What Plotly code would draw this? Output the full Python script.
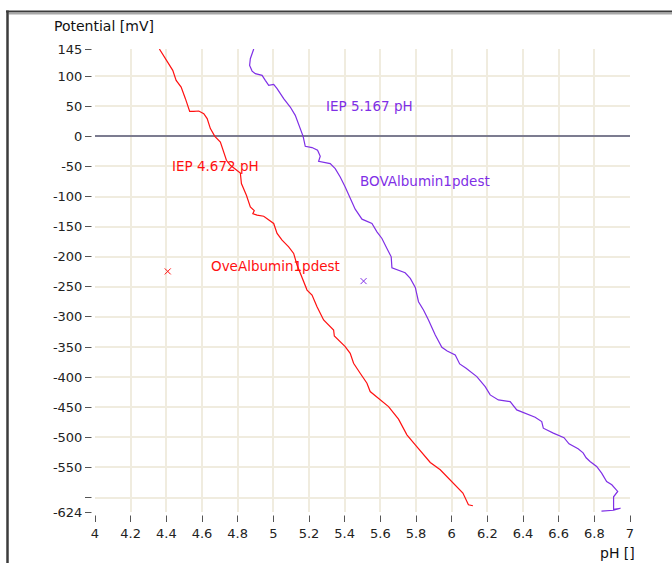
import plotly.graph_objects as go

# ---------------- data ----------------
ove_ph = [4.361, 4.395, 4.436, 4.455, 4.483, 4.507, 4.531, 4.554, 4.582, 4.610,
          4.629, 4.647, 4.672, 4.703, 4.718, 4.737, 4.759, 4.787, 4.815, 4.821,
          4.849, 4.871, 4.893, 4.885, 4.909, 4.946, 4.974, 5.002, 5.021, 5.049,
          5.086, 5.114, 5.133, 5.161, 5.189, 5.217, 5.245, 5.282, 5.310, 5.338,
          5.342, 5.375, 5.403, 5.431, 5.450, 5.487, 5.525, 5.543, 5.571, 5.599,
          5.646, 5.702, 5.749, 5.796, 5.833, 5.880, 5.936, 5.982, 6.020, 6.063,
          6.094, 6.119]
ove_mv = [145, 128.9, 109.5, 92.9, 81.8, 62.5, 41.5, 41.5, 42.0, 37.6,
          29.4, 12.8, 0, -9.5, -23.2, -39.8, -48.1, -55.2, -60.9, -78.4,
          -97.8, -117.2, -123.5, -128.5, -131.0, -132.7, -138.1, -144.8, -161.4, -172.5,
          -183.6, -194.5, -213.9, -233.3, -255.4, -263.7, -283.1, -305.1, -313.4, -321.7,
          -331.7, -341.1, -349.4, -360.4, -377.0, -393.5, -410.1, -424.0, -431.2, -437.8,
          -448.9, -469.8, -495.9, -512.4, -526.2, -541.8, -553.9, -567.7, -578.8, -592.5,
          -612.0, -613.6]

bov_ph = [4.890, 4.871, 4.867, 4.881, 4.899, 4.937, 4.955, 4.974, 5.002, 5.021,
          5.058, 5.095, 5.123, 5.142, 5.167, 5.179, 5.217, 5.248, 5.263, 5.254,
          5.291, 5.319, 5.347, 5.375, 5.403, 5.431, 5.459, 5.497, 5.553, 5.581,
          5.609, 5.637, 5.661, 5.665, 5.702, 5.739, 5.768, 5.796, 5.814, 5.842,
          5.870, 5.908, 5.945, 5.975, 6.020, 6.045, 6.081, 6.141, 6.188, 6.216,
          6.262, 6.328, 6.365, 6.412, 6.468, 6.505, 6.514, 6.570, 6.630, 6.658,
          6.709, 6.737, 6.754, 6.776, 6.813, 6.841, 6.869, 6.898, 6.931, 6.908,
          6.908, 6.947, 6.908, 6.840]
bov_mv = [145, 128.9, 117.7, 108.3, 104.0, 101.2, 92.9, 84.6, 86.2, 79.1,
          62.5, 48.6, 34.8, 21.1, 0, -16.6, -18.7, -23.2, -33.2, -41.5,
          -44.3, -45.3, -53.6, -67.5, -84.1, -103.3, -121.1, -137.6, -144.8, -158.7,
          -169.7, -186.2, -200.2, -218.4, -222.2, -226.7, -236.0, -250.9, -274.8, -288.6,
          -305.1, -330.0, -350.4, -356.6, -363.2, -378.1, -385.3, -399.2, -415.8, -429.5,
          -437.8, -440.6, -454.4, -459.9, -466.5, -473.8, -484.8, -493.0, -500.5, -510.8,
          -519.1, -525.7, -534.0, -540.1, -548.4, -559.4, -573.3, -578.8, -589.9, -598.7,
          -619.4, -617.8, -621.1, -622.7]

ove_marker = ([4.408], [-224.4])
bov_marker = ([5.506], [-240.5])

ove_iep_label = "IEP 4.672 pH"
bov_iep_label = "IEP 5.167 pH"
ove_name = "OveAlbumin1pdest"
bov_name = "BOVAlbumin1pdest"

x_tickvals = [4.0, 4.2, 4.4, 4.6, 4.8, 5.0, 5.2, 5.4, 5.6, 5.8, 6.0, 6.2, 6.4, 6.6, 6.8, 7.0]
x_ticktext = ["4", "4.2", "4.4", "4.6", "4.8", "5", "5.2", "5.4", "5.6", "5.8",
              "6", "6.2", "6.4", "6.6", "6.8", "7"]
y_tickvals = [145, 100, 50, 0, -50, -100, -150, -200, -250, -300, -350, -400,
              -450, -500, -550, -600, -624]
y_ticktext = ["145", "100", "50", "0", "-50", "-100", "-150", "-200", "-250", "-300",
              "-350", "-400", "-450", "-500", "-550", "", "-624"]

RED = "#ff1010"
PURPLE = "#7f2fe6"
FONT = "DejaVu Sans"

# ---------------- layout geometry ----------------
W, H = 672, 563
L, R, T, B = 95, 42, 49, 51
PW, PH = W - L - R, H - T - B


def px(xp):
    return (xp - L) / PW


def py(yp):
    return (H - B - yp) / PH


fig = go.Figure()

fig.add_trace(go.Scatter(x=ove_ph, y=ove_mv, mode="lines",
                         line=dict(color=RED, width=1.2), hoverinfo="skip"))
fig.add_trace(go.Scatter(x=bov_ph, y=bov_mv, mode="lines",
                         line=dict(color=PURPLE, width=1.2), hoverinfo="skip"))
fig.add_trace(go.Scatter(x=ove_marker[0], y=ove_marker[1], mode="markers",
                         marker=dict(symbol="x-thin", size=6, line=dict(color=RED, width=1))))
fig.add_trace(go.Scatter(x=bov_marker[0], y=bov_marker[1], mode="markers",
                         marker=dict(symbol="x-thin", size=6, line=dict(color=PURPLE, width=1))))

ann_font = dict(family=FONT, size=13.5)
fig.add_annotation(x=4.421, y=-49.3, text=ove_iep_label, showarrow=False,
                   xanchor="left", yanchor="middle", font=dict(**ann_font, color=RED))
fig.add_annotation(x=4.640, y=-215.1, text=ove_name, showarrow=False,
                   xanchor="left", yanchor="middle", font=dict(**ann_font, color=RED))
fig.add_annotation(x=5.286, y=50.2, text=bov_iep_label, showarrow=False,
                   xanchor="left", yanchor="middle", font=dict(**ann_font, color=PURPLE))
fig.add_annotation(x=5.472, y=-74.6, text=bov_name, showarrow=False,
                   xanchor="left", yanchor="middle", font=dict(**ann_font, color=PURPLE))

# axis titles
fig.add_annotation(x=px(52), y=py(26), xref="paper", yref="paper", text="Potential [mV]",
                   showarrow=False, xanchor="left", yanchor="middle",
                   font=dict(family=FONT, size=14, color="#111"))
fig.add_annotation(x=px(637), y=py(553), xref="paper", yref="paper", text="pH []",
                   showarrow=False, xanchor="right", yanchor="middle",
                   font=dict(family=FONT, size=14, color="#111"))

# window frame
fig.add_shape(type="line", xref="paper", yref="paper", x0=px(6), x1=px(680),
              y0=py(11.5), y1=py(11.5), line=dict(color="#3c3c3c", width=2))
fig.add_shape(type="line", xref="paper", yref="paper", x0=px(8.5), x1=px(680),
              y0=py(13.5), y1=py(13.5), line=dict(color="#a8a8a8", width=2))
fig.add_shape(type="line", xref="paper", yref="paper", x0=px(7.5), x1=px(7.5),
              y0=py(10.5), y1=py(570), line=dict(color="#3c3c3c", width=2.5))

# white masks to detach tick marks from the plot edge
fig.add_shape(type="rect", xref="paper", yref="paper", x0=px(91.5), x1=px(95),
              y0=py(H - B + 1), y1=py(T - 1), line=dict(width=0), fillcolor="white", layer="above")
fig.add_shape(type="rect", xref="paper", yref="paper", x0=px(L - 1), x1=px(W - R + 1),
              y0=py(515.5), y1=py(H - B), line=dict(width=0), fillcolor="white", layer="above")

GRID = "#f0ecdf"
fig.update_layout(
    width=W, height=H,
    margin=dict(l=L, r=R, t=T, b=B),
    paper_bgcolor="white", plot_bgcolor="white",
    showlegend=False,
    font=dict(family=FONT, size=13, color="#222"),
    xaxis=dict(range=[4, 7], tickvals=x_tickvals, ticktext=x_ticktext,
               showgrid=True, gridcolor=GRID, gridwidth=1.5,
               zeroline=False, showline=True, linecolor="white", linewidth=2, mirror=True,
               ticks="outside", ticklen=8, tickcolor="#555", tickwidth=1,
               tickfont=dict(family=FONT, size=13, color="#222"),
               layer="below traces"),
    yaxis=dict(range=[-624, 145], tickvals=y_tickvals, ticktext=y_ticktext,
               showgrid=True, gridcolor=GRID, gridwidth=1.5,
               zeroline=True, zerolinecolor="#7c7c90", zerolinewidth=1.5,
               showline=True, linecolor="white", linewidth=2, mirror=True,
               ticks="outside", ticklen=8, tickcolor="#555", tickwidth=1,
               tickfont=dict(family=FONT, size=13, color="#222"),
               layer="below traces"),
)

fig.write_html("out.html", config={"displayModeBar": False},
               post_script="document.body.style.margin='0px';document.body.style.overflow='hidden';")
